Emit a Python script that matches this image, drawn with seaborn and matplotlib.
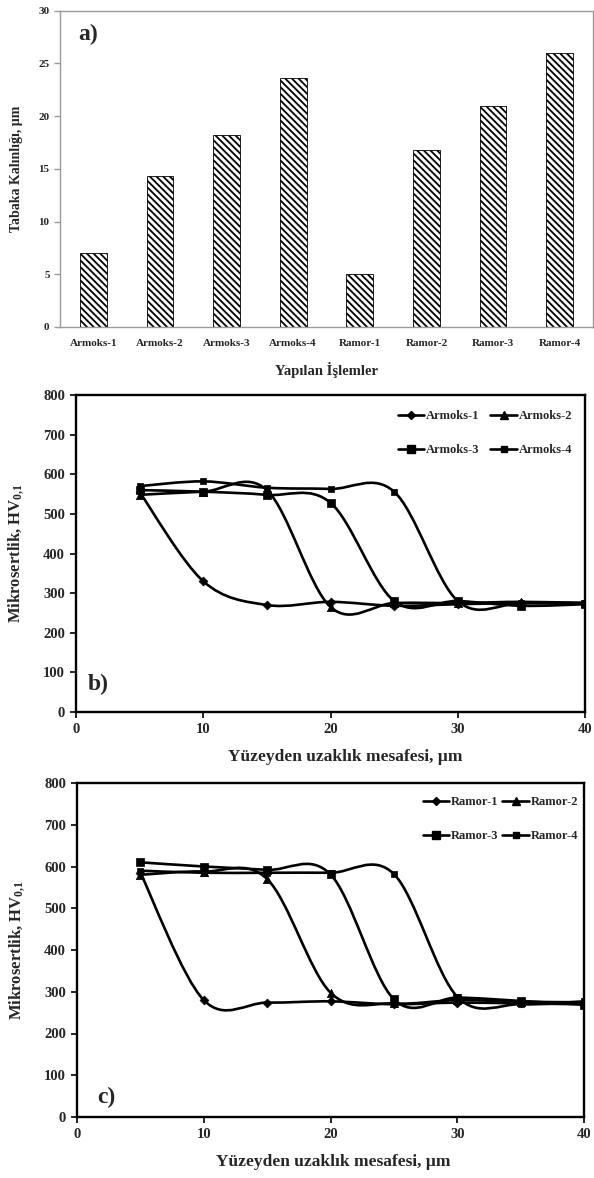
import numpy as np
import pandas as pd
import seaborn as sns
import matplotlib
import matplotlib.pyplot as plt
from matplotlib.path import Path
from matplotlib.patches import PathPatch
from matplotlib.lines import Line2D

sns.set_style("white")
matplotlib.rcParams['font.family'] = ['Liberation Serif', 'DejaVu Serif']
matplotlib.rcParams['font.weight'] = 'bold'
matplotlib.rcParams['axes.labelweight'] = 'bold'
matplotlib.rcParams['mathtext.fontset'] = 'custom'
matplotlib.rcParams['mathtext.rm'] = 'Liberation Serif:bold'
matplotlib.rcParams['mathtext.it'] = 'Liberation Serif:bold'
matplotlib.rcParams['mathtext.bf'] = 'Liberation Serif:bold'
matplotlib.rcParams['hatch.linewidth'] = 1.3

# a) tabaka kalinligi
islemler = ["Armoks-1", "Armoks-2", "Armoks-3", "Armoks-4",
            "Ramor-1", "Ramor-2", "Ramor-3", "Ramor-4"]
kalinlik = [7.0, 14.3, 18.2, 23.6, 5.0, 16.8, 21.0, 26.0]

# b) ve c) mikrosertlik profilleri
mesafe = [5, 10, 15, 20, 25, 30, 35, 40]
armoks1 = [555, 330, 270, 278, 268, 272, 275, 275]
armoks2 = [548, 556, 560, 265, 275, 275, 278, 275]
armoks3 = [560, 556, 548, 528, 280, 280, 268, 272]
armoks4 = [570, 582, 566, 563, 556, 280, 275, 275]
ramor1 = [585, 280, 274, 277, 270, 274, 272, 270]
ramor2 = [580, 588, 570, 298, 272, 280, 276, 275]
ramor3 = [610, 600, 592, 581, 282, 286, 278, 269]
ramor4 = [590, 585, 585, 585, 582, 288, 270, 277]

isaretler = [("D", 4.5), ("^", 6), ("s", 6), ("s", 4)]


def smooth_path(x, y):
    # excel tarzi yumusak cizgi (bezier)
    p = np.column_stack([x, y]).astype(float)
    n = len(p)
    verts = [p[0]]
    codes = [Path.MOVETO]
    for i in range(n - 1):
        p0 = p[max(i - 1, 0)]
        p1 = p[i]
        p2 = p[i + 1]
        p3 = p[min(i + 2, n - 1)]
        verts += [p1 + (p2 - p0) / 6, p2 - (p3 - p1) / 6, p2]
        codes += [Path.CURVE4] * 3
    return Path(verts, codes)


fig = plt.figure(figsize=(5.94, 11.78), dpi=100)
ax_a = fig.add_axes([60/594, 1-327/1178, 533/594, 316.3/1178])
ax_b = fig.add_axes([76/594, 1-712/1178, 509/594, 317/1178])
ax_c = fig.add_axes([77/594, 1-1117/1178, 507/594, 334/1178])

# ---- a) bar chart
df_a = pd.DataFrame({"islem": islemler, "kalinlik": kalinlik})
sns.barplot(data=df_a, x="islem", y="kalinlik", ax=ax_a, width=0.4,
            color="white", edgecolor="black", linewidth=0.6)
for bar in ax_a.patches:
    bar.set_hatch("\\\\\\\\\\")
ax_a.set_xlim(-0.5, 7.5)
ax_a.set_ylim(0, 30)
ax_a.set_yticks([0, 5, 10, 15, 20, 25, 30])
for sp in ax_a.spines.values():
    sp.set_visible(True)
    sp.set_color("#9a9a9a")
    sp.set_linewidth(1.0)
ax_a.tick_params(axis="y", direction="out", length=4.5, width=1, color="#9a9a9a",
                 left=True, labelsize=8, pad=3)
ax_a.tick_params(axis="x", length=0, labelsize=8, pad=9)
ax_a.set_xlabel("Yapılan İşlemler", fontsize=10.5)
ax_a.set_ylabel("Tabaka Kalınlığı, µm", fontsize=10)
ax_a.xaxis.set_label_coords(0.5, (327-370)/316.3)
ax_a.xaxis.label.set_va("center")
ax_a.yaxis.set_label_coords((17-60)/533, 0.5)
ax_a.yaxis.label.set_va("center")
ax_a.text((88-60)/533, (327-34)/316.3, "a)", transform=ax_a.transAxes,
          fontsize=17, ha="center", va="center")


def profil(ax, seriler, etiketler, harf, harf_xy, leg_anchor, colsp, xlab_x):
    handles = []
    for vals, lab, (m, ms) in zip(seriler, etiketler, isaretler):
        ax.add_patch(PathPatch(smooth_path(mesafe, vals), fill=False,
                               lw=1.9, ec="black", zorder=2))
        sns.scatterplot(x=mesafe, y=vals, ax=ax, marker=m, s=ms**2,
                        color="black", edgecolor="black", linewidth=0.5,
                        zorder=3, legend=False)
        handles.append(Line2D([], [], color="black", lw=1.9, marker=m, ms=ms,
                              label=lab))
    ax.set_xlim(0, 40)
    ax.set_ylim(0, 800)
    ax.set_xticks([0, 10, 20, 30, 40])
    ax.set_yticks(range(0, 801, 100))
    for sp in ax.spines.values():
        sp.set_visible(True)
        sp.set_color("black")
        sp.set_linewidth(1.7)
    ax.tick_params(direction="out", length=4, width=1.2, color="black",
                   left=True, bottom=True, labelsize=10.5, pad=4)
    ax.set_xlabel("Yüzeyden uzaklık mesafesi, µm", fontsize=12.5)
    ax.set_ylabel("Mikrosertlik, HV$_{0{,}1}$", fontsize=12)
    h = ax.bbox.height
    ax.xaxis.set_label_coords(xlab_x, -45/h)
    ax.xaxis.label.set_va("center")
    ax.yaxis.set_label_coords(-60/ax.bbox.width, 0.5)
    ax.yaxis.label.set_va("center")
    ax.text(harf_xy[0], harf_xy[1], harf, transform=ax.transAxes,
            fontsize=17, ha="center", va="center")
    ax.legend(handles=[handles[0], handles[2], handles[1], handles[3]],
              ncol=2, loc="upper right", bbox_to_anchor=leg_anchor,
              frameon=False, fontsize=9, handlelength=2.1, handletextpad=0.15,
              columnspacing=colsp, labelspacing=1.75, borderpad=0,
              borderaxespad=0)


profil(ax_b, [armoks1, armoks2, armoks3, armoks4],
       ["Armoks-1", "Armoks-2", "Armoks-3", "Armoks-4"], "b)",
       ((98-76)/509, (712-684)/317), ((572-76)/509, (712-410)/317), 0.9,
       (345-76)/509)
profil(ax_c, [ramor1, ramor2, ramor3, ramor4],
       ["Ramor-1", "Ramor-2", "Ramor-3", "Ramor-4"], "c)",
       ((106-77)/507, (1117-1097)/334), ((578-77)/507, (1117-796)/334), 0.3,
       (333-77)/507)

plt.savefig("out.png", dpi=100)
